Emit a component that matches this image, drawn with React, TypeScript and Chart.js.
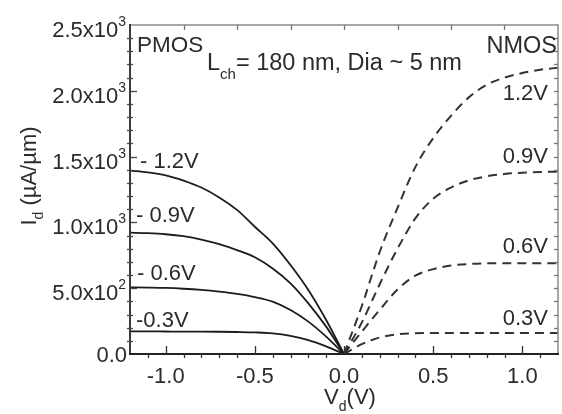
import React, { useEffect, useRef } from "react";
import { Chart, registerables } from "chart.js";
Chart.register(...registerables);

// ---- data ----
const vdP = [-1.2, -1.1, -1.0, -0.9, -0.8, -0.7, -0.6, -0.5, -0.4, -0.3, -0.2, -0.1, 0];
const idP12 = [1393, 1380, 1358, 1318, 1265, 1190, 1095, 967, 841, 676, 486, 258, 0];
const idP09 = [922, 918, 910, 895, 870, 835, 790, 735, 650, 537, 385, 208, 0];
const idP06 = [507, 505, 502, 496, 487, 474, 457, 433, 398, 334, 246, 132, 0];
const idP03 = [172, 172, 171, 170, 170, 169, 167, 164, 157, 138, 106, 58, 0];

const vdN = [0, 0.1, 0.2, 0.3, 0.4, 0.5, 0.6, 0.7, 0.8, 0.9, 1.0, 1.1, 1.2];
const idN12 = [0, 365, 775, 1110, 1420, 1640, 1810, 1950, 2045, 2100, 2135, 2160, 2175];
const idN09 = [0, 240, 530, 800, 1030, 1180, 1265, 1320, 1350, 1368, 1378, 1383, 1385];
const idN06 = [0, 170, 335, 490, 595, 645, 672, 684, 689, 690, 690, 690, 690];
const idN03 = [0, 75, 125, 150, 158, 160, 160, 160, 160, 160, 160, 160, 160];
const idN00 = [0, 0, 0, 0, 0, 0, 0, 0, 0, 0, 0, 0, 0];

const xTickValues = [-1.0, -0.5, 0.0, 0.5, 1.0];
const xTickLabels = ["-1.0", "-0.5", "0.0", "0.5", "1.0"];
const yTickValues = [0, 500, 1000, 1500, 2000, 2500];
const yTickMant = ["0.0", "5.0x10", "1.0x10", "1.5x10", "2.0x10", "2.5x10"];
const yTickExp = ["", "2", "3", "3", "3", "3"];

const pLabels = ["- 1.2V", "- 0.9V", "- 0.6V", "-0.3V"];
const nLabels = ["1.2V", "0.9V", "0.6V", "0.3V"];

const FONT = '"Liberation Sans", Arial, Helvetica, sans-serif';
const TXT = "#2b2b2b";

type Part = { t: string; s: number; dy: number };

function richWidth(ctx: CanvasRenderingContext2D, parts: Part[]) {
  let w = 0;
  for (const p of parts) {
    ctx.font = `${p.s}px ${FONT}`;
    w += ctx.measureText(p.t).width;
  }
  return w;
}

function drawRich(
  ctx: CanvasRenderingContext2D,
  parts: Part[],
  x: number,
  y: number,
  align: "left" | "right" | "center"
) {
  const w = richWidth(ctx, parts);
  let cx = align === "left" ? x : align === "right" ? x - w : x - w / 2;
  ctx.textAlign = "left";
  ctx.textBaseline = "alphabetic";
  for (const p of parts) {
    ctx.font = `${p.s}px ${FONT}`;
    ctx.fillText(p.t, cx, y + p.dy);
    cx += ctx.measureText(p.t).width;
  }
}

function pts(xs: number[], ys: number[]) {
  return xs.map((x, i) => ({ x, y: ys[i] }));
}

const framePlugin = {
  id: "framePlugin",
  afterDatasetsDraw(chart: any) {
    const { ctx, chartArea: a, scales } = chart;
    const xs = scales.x;
    const ys = scales.y;
    ctx.save();

    // frame
    ctx.lineCap = "butt";
    ctx.strokeStyle = "#8a8a8a";
    ctx.lineWidth = 1.5;
    ctx.beginPath();
    ctx.moveTo(a.left, a.top);
    ctx.lineTo(a.right, a.top);
    ctx.lineTo(a.right, a.bottom);
    ctx.stroke();

    ctx.strokeStyle = "#3a3a3a";
    ctx.lineWidth = 2;
    ctx.beginPath();
    ctx.moveTo(a.left, a.top - 1);
    ctx.lineTo(a.left, a.bottom);
    ctx.stroke();

    ctx.strokeStyle = "#222";
    ctx.lineWidth = 2.2;
    ctx.beginPath();
    ctx.moveTo(a.left - 1, a.bottom);
    ctx.lineTo(a.right + 1, a.bottom);
    ctx.stroke();

    // bottom ticks
    ctx.strokeStyle = "#333";
    ctx.lineWidth = 1.3;
    for (let i = -11; i <= 11; i++) {
      const v = i / 10;
      const px = Math.round(xs.getPixelForValue(v)) + 0.5;
      const major = i % 5 === 0;
      ctx.beginPath();
      if (major) {
        ctx.moveTo(px, a.bottom);
        ctx.lineTo(px, a.bottom - 8);
      } else {
        ctx.moveTo(px, a.bottom);
        ctx.lineTo(px, a.bottom + 4);
      }
      ctx.stroke();
    }
    // top ticks
    ctx.strokeStyle = "#777";
    for (let i = -3; i <= 3; i++) {
      const px = Math.round(xs.getPixelForValue(i * 0.3)) + 0.5;
      ctx.beginPath();
      ctx.moveTo(px, a.top);
      ctx.lineTo(px, a.top + 5);
      ctx.stroke();
    }
    // left ticks
    ctx.strokeStyle = "#444";
    for (let v = 100; v < 2500; v += 100) {
      const py = Math.round(ys.getPixelForValue(v)) + 0.5;
      const major = v % 500 === 0;
      ctx.beginPath();
      if (major) {
        ctx.moveTo(a.left, py);
        ctx.lineTo(a.left + 7, py);
      } else {
        ctx.moveTo(a.left - 3, py);
        ctx.lineTo(a.left + 3, py);
      }
      ctx.stroke();
    }
    // right ticks
    ctx.strokeStyle = "#777";
    for (let v = 100; v < 2500; v += 100) {
      const py = Math.round(ys.getPixelForValue(v)) + 0.5;
      ctx.beginPath();
      ctx.moveTo(a.right, py);
      ctx.lineTo(a.right - 4, py);
      ctx.stroke();
    }

    // tick labels
    ctx.fillStyle = TXT;
    xTickValues.forEach((v, i) => {
      const px = xs.getPixelForValue(v);
      drawRich(ctx, [{ t: xTickLabels[i], s: 22, dy: 0 }], px, a.bottom + 29, "center");
    });
    yTickValues.forEach((v, i) => {
      const py = ys.getPixelForValue(v);
      if (yTickExp[i] === "") {
        drawRich(ctx, [{ t: yTickMant[i], s: 22, dy: 0 }], a.left - 3, py + 8, "right");
      } else {
        drawRich(
          ctx,
          [
            { t: yTickMant[i], s: 22, dy: 0 },
            { t: yTickExp[i], s: 14, dy: -11 },
          ],
          a.left - 4,
          py + 12,
          "right"
        );
      }
    });

    // axis titles
    drawRich(
      ctx,
      [
        { t: "V", s: 22, dy: 0 },
        { t: "d", s: 14, dy: 7 },
        { t: "(V)", s: 22, dy: 0 },
      ],
      350,
      404,
      "center"
    );
    ctx.save();
    ctx.translate(36, 176);
    ctx.rotate(-Math.PI / 2);
    drawRich(
      ctx,
      [
        { t: "I", s: 22, dy: 0 },
        { t: "d", s: 14, dy: 7 },
        { t: " (\u00b5A/\u00b5m)", s: 22, dy: 0 },
      ],
      0,
      0,
      "center"
    );
    ctx.restore();

    // annotations
    drawRich(ctx, [{ t: "PMOS", s: 22.5, dy: 0 }], 137, 52, "left");
    drawRich(ctx, [{ t: "NMOS", s: 23.5, dy: 0 }], 557, 53, "right");
    drawRich(
      ctx,
      [
        { t: "L", s: 23.5, dy: 0 },
        { t: "ch", s: 15, dy: 9 },
        { t: "= 180 nm, Dia ~ 5 nm", s: 23.5, dy: 0 },
      ],
      207,
      70,
      "left"
    );
    const pBase = [168, 222, 280, 327];
    const pLeft = [140, 136, 137, 136];
    pLabels.forEach((t, i) => drawRich(ctx, [{ t, s: 22, dy: 0 }], pLeft[i], pBase[i], "left"));
    const nBase = [100, 163, 253, 325];
    nLabels.forEach((t, i) => drawRich(ctx, [{ t, s: 22, dy: 0 }], 548, nBase[i], "right"));

    ctx.restore();
  },
};

export default function App() {
  const ref = useRef<HTMLCanvasElement | null>(null);
  useEffect(() => {
    if (!ref.current) return;
    const solid = (d: { x: number; y: number }[]) => ({
      data: d,
      showLine: true,
      pointRadius: 0,
      borderColor: "#1c1c1c",
      borderWidth: 1.8,
      cubicInterpolationMode: "monotone" as const,
      fill: false,
    });
    const dashed = (d: { x: number; y: number }[]) => ({
      data: d,
      showLine: true,
      pointRadius: 0,
      borderColor: "#333",
      borderWidth: 2,
      borderDash: [9, 6],
      cubicInterpolationMode: "monotone" as const,
      fill: false,
    });
    const chart = new Chart(ref.current, {
      type: "scatter",
      data: {
        datasets: [
          solid(pts(vdP, idP12)),
          solid(pts(vdP, idP09)),
          solid(pts(vdP, idP06)),
          solid(pts(vdP, idP03)),
          dashed(pts(vdN, idN12)),
          dashed(pts(vdN, idN09)),
          dashed(pts(vdN, idN06)),
          dashed(pts(vdN, idN03)),
          dashed(pts(vdN, idN00)),
        ],
      },
      options: {
        animation: false,
        responsive: false,
        devicePixelRatio: 1,
        layout: { padding: { left: 130, top: 25, right: 4, bottom: 60 } },
        plugins: { legend: { display: false }, tooltip: { enabled: false } },
        scales: {
          x: { type: "linear", min: -1.2, max: 1.2, display: false },
          y: { type: "linear", min: 0, max: 2500, display: false },
        },
      },
      plugins: [framePlugin],
    });
    return () => chart.destroy();
  }, []);
  return (
    <div style={{ position: "fixed", left: 0, top: 0, width: 562, height: 414, background: "#fff" }}>
      <canvas ref={ref} width={562} height={414} style={{ display: "block" }} />
    </div>
  );
}
